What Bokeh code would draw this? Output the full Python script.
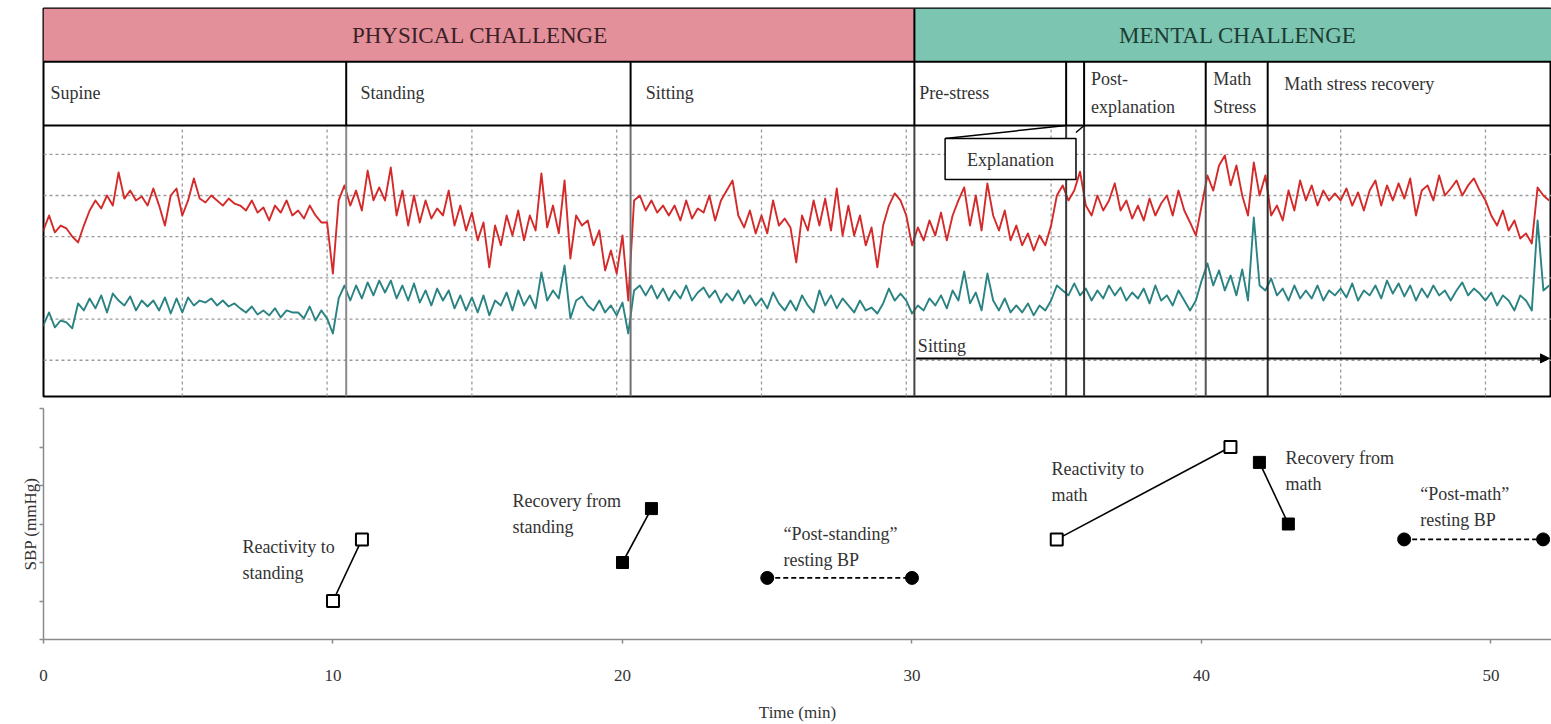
import math
from bokeh.plotting import figure
from bokeh.layouts import column
from bokeh.models import Label, Arrow, NormalHead, Range1d, FixedTicker, CustomJSTickFormatter
from bokeh.embed import file_html
from bokeh.resources import INLINE

SERIF = "Liberation Serif"

# ---------------- top panel: continuous BP recording ----------------
SAMPLE_STEP = 0.2  # minutes between read-off samples
SBP = [
    117.9, 113, 120.3, 112.1, 115.4,
    114, 110.1, 107.2, 115.4, 122.7,
    127.6, 123.7, 130, 125.1, 141.2,
    128.5, 132.4, 127.6, 129.5, 125.1,
    133.4, 125.1, 115.4, 130, 133.4,
    120.3, 127.6, 138.3, 128.5, 126.6,
    130, 127.6, 125.1, 128.5, 126.1,
    125.1, 122.7, 127.6, 121.7, 124.2,
    117.9, 125.1, 121.7, 127.6, 120.3,
    122.7, 118.8, 125.1, 120.3, 116.9,
    116.9, 92.1, 127.6, 134.9, 125.1,
    132.4, 122.7, 142.1, 127.6, 133.9,
    127.6, 143.6, 120.3, 132.4, 115.4,
    130, 116.9, 127.6, 118.8, 123.7,
    120.3, 132.4, 115.4, 125.1, 113,
    121.7, 108.2, 116.9, 95.1, 115.4,
    105.8, 120.3, 110.6, 122.7, 108.2,
    120.3, 113, 140.7, 114.5, 125.1,
    111.6, 137.3, 99.4, 120.3, 115.4,
    117.9, 105.8, 113, 93.6, 103.3,
    92.1, 110.6, 79, 127.6, 130,
    122.7, 127.6, 121.7, 125.1, 120.3,
    125.1, 117.9, 127.6, 118.8, 123.7,
    121.7, 130, 117.9, 127.6, 132.4,
    137.3, 120.3, 114.5, 122.7, 111.6,
    120.3, 111.6, 127.6, 115.4, 118.8,
    114.5, 97.5, 120.3, 113, 127.6,
    115.4, 128.5, 113, 133.4, 110.6,
    125.1, 110.6, 120.3, 105.8, 114.5,
    95.1, 115.4, 125.1, 131, 127.6,
    120.3, 105.8, 114.5, 108.2, 117.9,
    110.6, 121.7, 108.2, 120.3, 127.6,
    133.9, 115.4, 130, 113, 135.9,
    120.3, 113, 122.7, 108.2, 115.4,
    105.8, 111.6, 103.3, 110.6, 105.8,
    115.4, 130, 134.9, 127.6, 132.4,
    141.6, 125.1, 120.3, 130, 122.7,
    127.6, 135.9, 122.7, 127.6, 118.8,
    125.1, 117.9, 128.5, 120.3, 126.1,
    130, 120.3, 132.4, 122.7, 116.9,
    110.6, 125.1, 139.7, 132.4, 144.6,
    149.4, 134.9, 144.6, 130, 120.3,
    146.1, 130, 139.7, 120.3, 125.1,
    117.9, 132.4, 122.7, 137.3, 127.6,
    134.9, 125.1, 132.4, 127.6, 131,
    127.6, 133.4, 125.1, 131.5, 122.7,
    132.4, 137.3, 125.1, 134.9, 127.6,
    135.9, 128.5, 138.3, 120.3, 132.4,
    134.9, 127.6, 139.7, 130, 133.4,
    137.3, 130, 134.9, 138.3, 132.4,
    127.6, 120.3, 115.4, 122.7, 113,
    117.9, 109.1, 111.6, 106.7, 133.9,
    130, 127.6,
]
DBP = [
    70.8, 66.9, 73.2, 66, 69.3,
    68.4, 65.5, 77.6, 74.2, 80,
    75.2, 81.5, 73.2, 82.4, 79,
    76.6, 81, 74.2, 79, 76.1,
    79, 74.2, 80.5, 72.7, 80,
    73.2, 80.5, 76.6, 79, 78,
    80, 76.6, 79, 76.1, 77.6,
    75.2, 73.2, 76.1, 72.2, 74.2,
    71.8, 75.2, 70.8, 74.2, 73.2,
    73.2, 70.3, 76.1, 69.3, 74.2,
    70.3, 63, 80, 86.3, 79,
    86.3, 80, 87.8, 81.5, 88.7,
    82.9, 88.7, 80, 86.3, 79,
    87.3, 78, 83.9, 76.6, 84.8,
    79, 83.9, 75.2, 81.5, 74.2,
    80.5, 73.2, 81.5, 71.8, 79,
    76.6, 82.9, 74.2, 83.9, 76.6,
    81.5, 75.2, 92.6, 79, 83.9,
    80, 96, 70.3, 79, 81,
    76.6, 74.2, 79, 73.2, 76.6,
    71.8, 78, 63, 83.9, 86.3,
    81.5, 86.3, 80, 84.8, 79,
    83.9, 80, 86.3, 79, 82.9,
    85.3, 80.5, 83.9, 78, 82.4,
    79, 83.9, 77.6, 81.5, 76.6,
    80, 75.2, 82.9, 77.6, 74.2,
    79, 74.2, 81.5, 76.6, 73.2,
    83.9, 76.6, 81.5, 75.2, 80,
    76.6, 73.2, 79, 74.2, 75.6,
    72.7, 77.6, 84.8, 79, 82.4,
    79, 72.7, 76.6, 74.2, 80,
    76.6, 81.5, 75.2, 83.9, 79,
    93.1, 77.6, 82.9, 74.2, 92.1,
    79, 74.2, 80, 73.2, 76.6,
    73.2, 77.6, 71.8, 76.6, 74.2,
    79, 86.3, 83.9, 81.5, 87.3,
    81.5, 84.8, 79, 83.9, 80,
    86.3, 81.5, 85.3, 79, 82.9,
    80, 84.8, 77.6, 86.3, 79,
    81.5, 76.6, 83.9, 79, 74.2,
    79, 88.7, 97, 86.3, 93.6,
    83.9, 91.2, 81.5, 94.1, 79,
    119.3, 86.3, 83.9, 89.7, 81.5,
    84.8, 79, 86.3, 80, 83.9,
    80, 86.3, 79, 83.9, 81.5,
    84.8, 80.5, 87.3, 79, 83.9,
    81.5, 86.3, 80, 88.7, 82.4,
    87.3, 81, 86.3, 79, 84.8,
    80.5, 86.3, 81.5, 83.9, 79,
    83.9, 87.8, 81.5, 84.8, 82.4,
    79, 82.9, 76.6, 81.5, 79,
    74.2, 81.5, 79, 74.2, 117.9,
    83.9, 86.3,
]
TIME = [round(i * SAMPLE_STEP, 1) for i in range(len(SBP))]

CHALLENGES = ["PHYSICAL CHALLENGE", "MENTAL CHALLENGE"]
CHALLENGE_COLORS = ["#E3909A", "#7CC5B0"]
CHALLENGE_TEXT_COLORS = ["#3b2127", "#1d3c33"]
CHALLENGE_TEXT_X = [15.28, 41.45]
PHASE_LABELS = ["Supine", "Standing", "Sitting", "Pre-stress",
                "Post-\nexplanation", "Math\nStress", "Math stress recovery"]
PHASE_BOUNDS = [10.66, 20.48, 30.28, 35.52, 36.14, 40.34, 42.48]
BOUND_COLORS = ["#8a8a8a", "#707070", "#444444", "#3a3a3a", "#3a3a3a", "#555555", "#2a2a2a"]
GRID_T = [5, 10, 15, 20, 25, 30, 35, 40, 45, 50]
GRID_V = [50, 70, 90, 110, 130, 150]

X0, X1 = 0.207, 52.28
Y_SIG0, Y_SIG1, Y_ROW1, Y_TOP = 32.4, 164.0, 195.0, 220.8

top = figure(width=1551, height=398, x_range=Range1d(X0, X1), y_range=Range1d(Y_SIG0, Y_TOP),
             x_axis_type=None, y_axis_type=None, toolbar_location=None, output_backend="svg",
             min_border_left=41, min_border_right=0, min_border_top=8, min_border_bottom=2)
top.outline_line_color = "black"
top.outline_line_width = 2

# header bands
starts = [X0, PHASE_BOUNDS[2]]
ends = [PHASE_BOUNDS[2], X1]
top.quad(left=starts, right=ends, bottom=Y_ROW1, top=Y_TOP, fill_color=CHALLENGE_COLORS, line_color=None)
for tx, txt, col in zip(CHALLENGE_TEXT_X, CHALLENGES, CHALLENGE_TEXT_COLORS):
    top.add_layout(Label(x=tx, y=207.7, text=txt, text_align="center", text_baseline="middle",
                         text_font=SERIF, text_font_size="23px", text_color=col))

# grid (signal area only)
top.segment(x0=GRID_T, x1=GRID_T, y0=Y_SIG0, y1=Y_SIG1, line_color="#9a9a9a", line_dash="3 3", line_width=1.3)
top.segment(x0=X0, x1=X1, y0=GRID_V, y1=GRID_V, line_color="#9a9a9a", line_dash="3 3", line_width=1.3)

# traces
top.line(TIME, SBP, line_color="#d42a2a", line_width=1.9, line_join="round")
top.line(TIME, DBP, line_color="#2a8282", line_width=1.9, line_join="round")

# phase boundary lines in signal area
top.segment(x0=PHASE_BOUNDS, x1=PHASE_BOUNDS, y0=Y_SIG0, y1=Y_SIG1, line_color=BOUND_COLORS, line_width=2)
# phase row dividers
top.segment(x0=PHASE_BOUNDS, x1=PHASE_BOUNDS, y0=Y_SIG1, y1=Y_ROW1, line_color="black", line_width=2)
top.segment(x0=PHASE_BOUNDS[2], x1=PHASE_BOUNDS[2], y0=Y_ROW1, y1=Y_TOP, line_color="black", line_width=2)
top.segment(x0=X0, x1=X1, y0=[Y_SIG1, Y_ROW1], y1=[Y_SIG1, Y_ROW1], line_color="black", line_width=2)

phase_x = [0.45, 11.15, 21.0, 30.45, 36.38, 40.6, 43.05]
phase_y = [180.0, 180.0, 180.0, 180.0, 179.8, 179.8, 183.9]
for lx, ly, txt in zip(phase_x, phase_y, PHASE_LABELS):
    top.add_layout(Label(x=lx, y=ly, text=txt, text_align="left", text_baseline="middle",
                         text_font=SERIF, text_font_size="18px", text_color="#333333",
                         text_line_height=1.4))

# Explanation callout
top.segment(x0=[31.34, 35.86], y0=[157.7, 160.6], x1=[35.52, 36.14], y1=[Y_SIG1, Y_SIG1],
            line_color="black", line_width=1.5)
top.quad(left=31.34, right=35.86, bottom=137.8, top=157.7, fill_color="white", line_color="black", line_width=1.5)
top.add_layout(Label(x=33.6, y=147.0, text="Explanation", text_align="center", text_baseline="middle",
                     text_font=SERIF, text_font_size="18px", text_color="#333333"))

# Sitting arrow
top.add_layout(Arrow(end=NormalHead(size=9, fill_color="black", line_color="black"),
                     x_start=30.34, y_start=50.9, x_end=52.21, y_end=50.9, line_width=2, line_color="black"))
top.add_layout(Label(x=30.4, y=56.7, text="Sitting", text_align="left", text_baseline="middle",
                     text_font=SERIF, text_font_size="18px", text_color="#333333"))

# axis titles of the top panel
for ly, txt in [(145.5, "SBP (mmHg)"), (78.1, "DBP (mmHg)")]:
    top.add_layout(Label(x=X0, y=ly, x_offset=-17, text=txt, angle=math.pi / 2, text_align="center",
                         text_baseline="middle", text_font=SERIF, text_font_size="17px", text_color="#444444"))

# ---------------- bottom panel: derived SBP measures ----------------
REACT_STAND_T, REACT_STAND_SBP = [10, 11], [110, 126]
RECOV_STAND_T, RECOV_STAND_SBP = [20, 21], [120, 134]
POST_STAND_T, POST_STAND_SBP = [25, 30], [116, 116]
REACT_MATH_T, REACT_MATH_SBP = [35, 41], [126, 150]
RECOV_MATH_T, RECOV_MATH_SBP = [42, 43], [146, 130]
POST_MATH_T, POST_MATH_SBP = [47, 51.8], [126, 126]
X_TICKS = [0, 10, 20, 30, 40, 50]
Y_TICKS = [100, 110, 120, 130, 140, 150, 160]

bot = figure(width=1551, height=326, x_range=Range1d(0, 52.09), y_range=Range1d(100, 160),
             toolbar_location=None, output_backend="svg",
             min_border_left=43, min_border_right=0, min_border_top=10, min_border_bottom=85)
bot.outline_line_color = None
bot.grid.visible = False
for ax in [bot.xaxis[0], bot.yaxis[0]]:
    ax.axis_line_color = "#8a8a8a"
    ax.axis_line_width = 1.5
    ax.major_tick_line_color = "#8a8a8a"
    ax.major_tick_line_width = 1.5
    ax.minor_tick_line_color = None
    ax.major_tick_in = 0
    ax.major_tick_out = 4
    ax.major_label_text_font = SERIF
    ax.major_label_text_font_size = "17px"
    ax.major_label_text_color = "#333333"
    ax.axis_label_text_font = SERIF
    ax.axis_label_text_font_size = "17px"
    ax.axis_label_text_font_style = "normal"
    ax.axis_label_text_color = "#333333"
bot.xaxis.ticker = FixedTicker(ticks=X_TICKS)
bot.yaxis.ticker = FixedTicker(ticks=Y_TICKS)
bot.yaxis.formatter = CustomJSTickFormatter(code="return ''")
bot.xaxis.axis_label = "Time (min)"
bot.yaxis.axis_label = "SBP (mmHg)"
bot.xaxis.major_label_standoff = 26
bot.xaxis.axis_label_standoff = 19
bot.yaxis.major_label_standoff = 0
bot.yaxis.axis_label_standoff = 0

bot.line(REACT_STAND_T, REACT_STAND_SBP, line_color="black", line_width=1.6)
bot.scatter(REACT_STAND_T, REACT_STAND_SBP, marker="square", size=12, fill_color="white", line_color="black", line_width=2)
bot.line(RECOV_STAND_T, RECOV_STAND_SBP, line_color="black", line_width=1.6)
bot.scatter(RECOV_STAND_T, RECOV_STAND_SBP, marker="square", size=12, fill_color="black", line_color="black")
bot.line(POST_STAND_T, POST_STAND_SBP, line_color="black", line_width=1.6, line_dash="5 3")
bot.scatter(POST_STAND_T, POST_STAND_SBP, marker="circle", size=13, fill_color="black", line_color="black")
bot.line(REACT_MATH_T, REACT_MATH_SBP, line_color="black", line_width=1.6)
bot.scatter(REACT_MATH_T, REACT_MATH_SBP, marker="square", size=12, fill_color="white", line_color="black", line_width=2)
bot.line(RECOV_MATH_T, RECOV_MATH_SBP, line_color="black", line_width=1.6)
bot.scatter(RECOV_MATH_T, RECOV_MATH_SBP, marker="square", size=12, fill_color="black", line_color="black")
bot.line(POST_MATH_T, POST_MATH_SBP, line_color="black", line_width=1.6, line_dash="5 3")
bot.scatter(POST_MATH_T, POST_MATH_SBP, marker="circle", size=13, fill_color="black", line_color="black")

NOTES = ["Reactivity to\nstanding", "Recovery from\nstanding", "\u201cPost-standing\u201d\nresting BP",
         "Reactivity to\nmath", "Recovery from\nmath", "\u201cPost-math\u201d\nresting BP"]
NOTE_X = [6.87, 16.2, 25.56, 34.82, 42.9, 47.56]
NOTE_Y = [126.6, 138.6, 130.0, 146.9, 149.7, 140.4]
for nx, ny, txt in zip(NOTE_X, NOTE_Y, NOTES):
    bot.add_layout(Label(x=nx, y=ny, text=txt, text_align="left", text_baseline="top",
                         text_font=SERIF, text_font_size="18px", text_color="#333333",
                         text_line_height=1.3))

layout = column(top, bot, spacing=0)
open("out.html", "w").write(file_html(layout, INLINE))
